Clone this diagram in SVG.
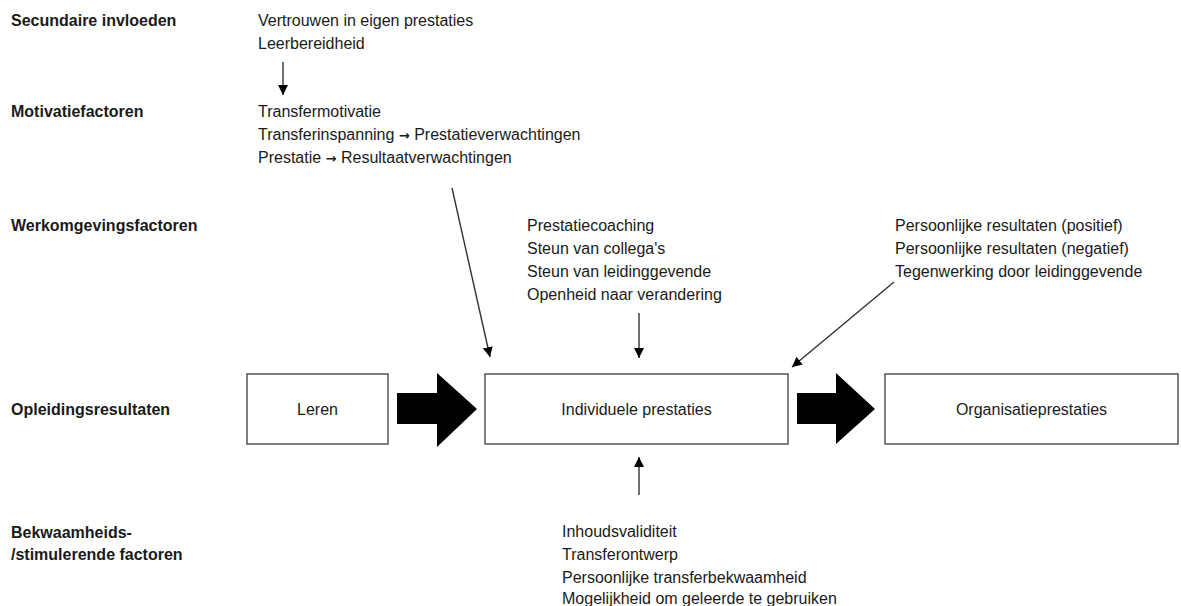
<svg xmlns="http://www.w3.org/2000/svg" width="1181" height="606" viewBox="0 0 1181 606">
<style>
  text { font-family: "Liberation Sans", Arial, sans-serif; font-size: 16px; fill: #1a1a1a; }
  .lbl { font-weight: bold; }
  .arr { font-family: "DejaVu Sans", sans-serif; font-weight: bold; font-size: 13px; }
  .box { fill: #fff; stroke: #555; stroke-width: 1.5; }
  .mid { text-anchor: middle; }
  .conn { stroke: #333; stroke-width: 1.4; fill: none; marker-end: url(#ah); }
  .big { fill: #000; }
</style>
<defs>
  <marker id="ah" viewBox="0 0 10 10" refX="10" refY="5" markerWidth="10" markerHeight="10" markerUnits="userSpaceOnUse" orient="auto">
    <path d="M0,0 L10,5 L0,10 Z" fill="#000"/>
  </marker>
</defs>
<rect width="1181" height="606" fill="#fff"/>

<g id="row-labels">
  <text class="lbl" x="11" y="25.5">Secundaire invloeden</text>
  <text class="lbl" x="11" y="116.5">Motivatiefactoren</text>
  <text class="lbl" x="11" y="230.5">Werkomgevingsfactoren</text>
  <text class="lbl" x="11" y="414.5">Opleidingsresultaten</text>
  <text class="lbl" x="11" y="537.5">Bekwaamheids-</text>
  <text class="lbl" x="11" y="559.5">/stimulerende factoren</text>
</g>

<g id="secundaire">
  <text x="258" y="25.5">Vertrouwen in eigen prestaties</text>
  <text x="258" y="48.5">Leerbereidheid</text>
</g>

<g id="motivatie">
  <text x="258" y="116.5">Transfermotivatie</text>
  <text x="258" y="139.5">Transferinspanning <tspan class="arr">→</tspan> Prestatieverwachtingen</text>
  <text x="258" y="162.5">Prestatie <tspan class="arr">→</tspan> Resultaatverwachtingen</text>
</g>

<g id="werkomgeving">
  <text x="527" y="230.5">Prestatiecoaching</text>
  <text x="527" y="253.5">Steun van collega's</text>
  <text x="527" y="276.5">Steun van leidinggevende</text>
  <text x="527" y="299.5">Openheid naar verandering</text>
</g>

<g id="persoonlijk">
  <text x="895" y="230.5">Persoonlijke resultaten (positief)</text>
  <text x="895" y="253.5">Persoonlijke resultaten (negatief)</text>
  <text x="895" y="276.5">Tegenwerking door leidinggevende</text>
</g>

<g id="leren">
  <rect class="box" x="247" y="374" width="141" height="70"/>
  <text class="mid" x="317.5" y="414.5">Leren</text>
</g>

<g id="individuele">
  <rect class="box" x="485" y="374" width="303" height="70"/>
  <text class="mid" x="636.5" y="414.5">Individuele prestaties</text>
</g>

<g id="organisatie">
  <rect class="box" x="885" y="374" width="293" height="70"/>
  <text class="mid" x="1031.5" y="414.5">Organisatieprestaties</text>
</g>

<g id="bekwaamheid">
  <text x="562" y="536.5">Inhoudsvaliditeit</text>
  <text x="562" y="559.5">Transferontwerp</text>
  <text x="562" y="582.5">Persoonlijke transferbekwaamheid</text>
  <text x="562" y="603.5">Mogelijkheid om geleerde te gebruiken</text>
</g>

<g id="connectors">
  <line class="conn" x1="283" y1="62" x2="283" y2="95"/>
  <line class="conn" x1="452" y1="188" x2="490" y2="357"/>
  <line class="conn" x1="639" y1="313" x2="639" y2="358"/>
  <line class="conn" x1="894" y1="282" x2="792" y2="367"/>
  <line class="conn" x1="639" y1="495" x2="639" y2="457"/>
  <polygon class="big" points="397,393 437,393 437,373 477,409 437,447 437,424 397,424"/>
  <polygon class="big" points="797,393 836,393 836,373 875,409 836,444 836,424 797,424"/>
</g>
</svg>
